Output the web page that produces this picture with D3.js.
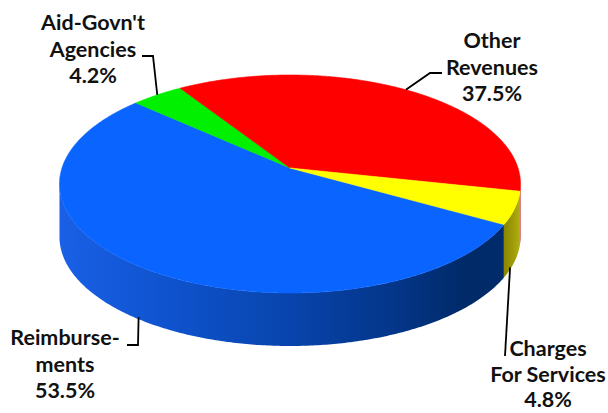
<!DOCTYPE html>
<html>
<head>
<meta charset="utf-8">
<script src="https://cdn.jsdelivr.net/npm/d3@7"></script>
<style>
  html, body { margin: 0; padding: 0; background: #ffffff; }
  svg { display: block; }
  .label { font-family: Lato, "Open Sans", sans-serif; font-weight: bold; font-size: 21.5px; fill: #111; }
</style>
</head>
<body>
<svg id="chart" width="608" height="413"></svg>
<script>
// Revenue sources, in drawing order around the pie
const categories = ["Reimbursements", "Aid-Govn't Agencies", "Other Revenues", "Charges For Services"];
const shares = [53.5, 4.2, 37.5, 4.8];
const labelLines = [["Reimburse-", "ments"], ["Aid-Govn't", "Agencies"], ["Other", "Revenues"], ["Charges", "For Services"]];
const shareLabels = ["53.5%", "4.2%", "37.5%", "4.8%"];

// Face colours and side colours per slice
const topColors = ["#0a64ff", "#00f000", "#ff0000", "#ffff00"];
const sideGradients = ["sideBlue", "sideGreen", "sideRed", "sideYellow"];

// Label placement: text centre, first baseline, line step, leader elbow and end,
// and where along the slice (0..1) the leader starts
const labelLayout = [
  { x: 65, y: 345, step: 26.5, elbow: [138, 345], end: [127, 345], along: 0.5 },
  { x: 93, y: 30, step: 26.5, elbow: [153, 56], end: [142, 56], along: 0.5 },
  { x: 492, y: 48, step: 26.5, elbow: [430, 73], end: [442, 73], along: 0.5 },
  { x: 548, y: 356, step: 25.5, elbow: [505, 356], end: [505, 356], along: 0.75 }
];

const svg = d3.select("#chart");

// Perspective view of a tilted disc: centre of the top face, scale and tilt
const cx = 290, cy = 168, sx = 228, sy = 106.65, k = -0.1468, depth = 53;
function project(t, drop) {
  const u = Math.cos(t), v = Math.sin(t), w = 1 + k * v;
  return [cx + sx * u / w, cy + sy * v / w + drop];
}

const pie = d3.pie().sort(null).value(d => d)
  .startAngle(119.5 * Math.PI / 180)
  .endAngle(119.5 * Math.PI / 180 + 2 * Math.PI);
const arcs = pie(shares).map((a, i) => ({
  i,
  t0: a.startAngle - Math.PI / 2,
  t1: a.endAngle - Math.PI / 2
}));

function sample(t0, t1, drop) {
  const n = Math.max(2, Math.ceil((t1 - t0) / 0.01));
  return d3.range(n + 1).map(j => project(t0 + (t1 - t0) * j / n, drop));
}

// Gradients for the rim
const defs = svg.append("defs");
function gradient(id, x1, x2, stops) {
  const g = defs.append("linearGradient").attr("id", id)
    .attr("gradientUnits", "userSpaceOnUse")
    .attr("x1", x1).attr("x2", x2).attr("y1", 0).attr("y2", 0);
  stops.forEach(([o, c]) => g.append("stop").attr("offset", o).attr("stop-color", c));
}
gradient("sideBlue", 60, 520, [[0, "#1a60e6"], [0.25, "#0e52cc"], [0.5, "#0844ac"], [0.72, "#04368a"], [0.88, "#002a68"], [1, "#002c6c"]]);
gradient("sideGreen", 60, 520, [[0, "#00a000"], [1, "#006000"]]);
gradient("sideRed", 500, 522, [[0, "#900000"], [1, "#b80000"]]);
gradient("sideYellow", 500, 522, [[0, "#7e7c00"], [0.6, "#a09c08"], [1, "#b8b418"]]);

// Rim: only the part of each slice that faces the viewer
const a0 = Math.asin(-k), a1 = Math.PI - Math.asin(-k);
const line = d3.line();
arcs.forEach(a => {
  [0, 1].forEach(n => {
    const lo = Math.max(a.t0, a0 + 2 * Math.PI * n);
    const hi = Math.min(a.t1, a1 + 2 * Math.PI * n);
    if (hi <= lo) return;
    const pts = sample(lo, hi, 0).concat(sample(lo, hi, depth).reverse());
    svg.append("path")
      .attr("d", line(pts) + "Z")
      .attr("fill", `url(#${sideGradients[a.i]})`);
  });
});

// Top faces
arcs.forEach(a => {
  const pts = [[cx, cy]].concat(sample(a.t0, a.t1, 0));
  svg.append("path")
    .attr("d", line(pts) + "Z")
    .attr("fill", topColors[a.i])
    .attr("stroke", topColors[a.i])
    .attr("stroke-width", 0.6)
    .attr("stroke-linejoin", "round");
});

// Leader lines from each slice to its label
arcs.forEach(a => {
  const L = labelLayout[a.i];
  const t = a.t0 + (a.t1 - a.t0) * L.along;
  const front = Math.sin(t) > 0;
  const anchor = project(t, front ? depth - 2 : 0);
  svg.append("path")
    .attr("d", line([anchor, L.elbow, L.end]))
    .attr("fill", "none")
    .attr("stroke", "#000")
    .attr("stroke-width", 1.8);
});

// Labels
arcs.forEach(a => {
  const L = labelLayout[a.i];
  const text = svg.append("text").attr("class", "label").attr("text-anchor", "middle");
  labelLines[a.i].concat([shareLabels[a.i]]).forEach((s, j) => {
    text.append("tspan").attr("x", L.x).attr("y", L.y + j * L.step).text(s);
  });
});
</script>
</body>
</html>
